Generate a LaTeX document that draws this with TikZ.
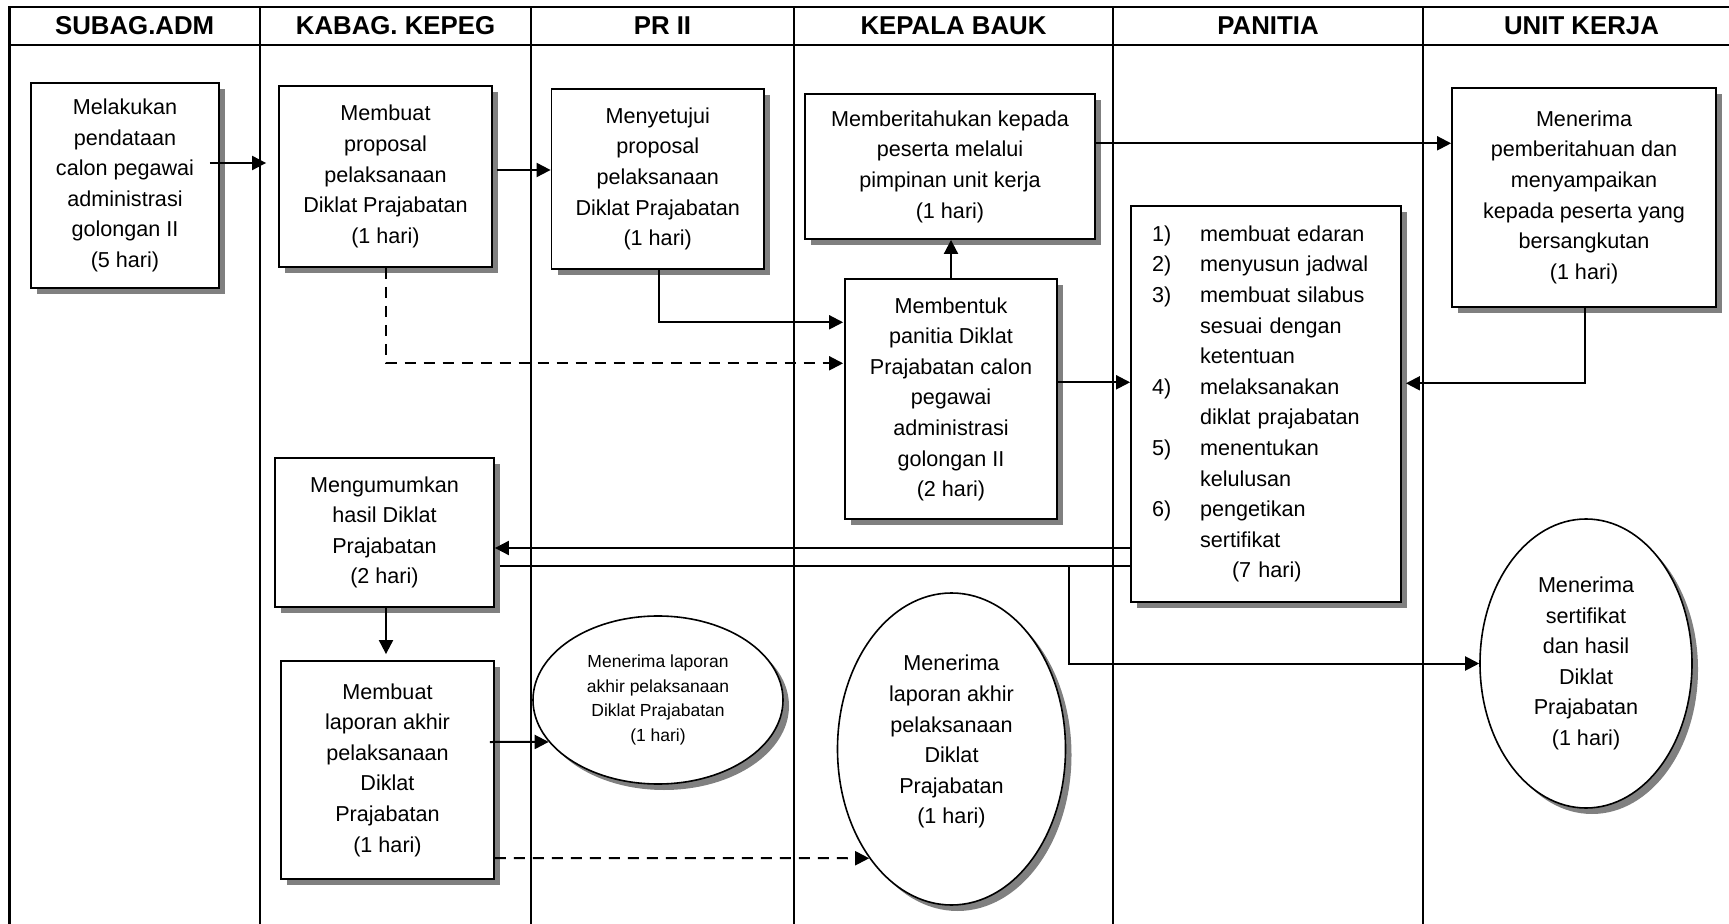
\documentclass[tikz,border=0pt]{standalone}
\usepackage{fontspec}
\setmainfont{Liberation Sans}
\usetikzlibrary{arrows.meta,shapes.geometric,shadows,calc}
\definecolor{shade}{RGB}{128,128,128}
\newcommand{\lnum}[1]{\makebox[24pt][l]{#1}}
\tikzset{
  lane/.style={line width=1.1pt},
  boxshadow/.style={drop shadow={shadow xshift=3pt,shadow yshift=-3pt,fill=shade,opacity=1}},
  proc/.style={draw,line width=0.9pt,fill=white,rectangle,align=center,inner sep=2pt,
    font=\fontsize{10.8pt}{15.3pt}\selectfont,boxshadow},
  term/.style={draw,ellipse,line width=0.8pt,fill=white,align=center,inner sep=0pt,
    font=\fontsize{10.8pt}{15.3pt}\selectfont,boxshadow},
  arr/.style={line width=1pt,-{Triangle[length=7pt,width=7pt]}},
  link/.style={line width=1pt},
  dashlink/.style={line width=1pt,dash pattern=on 5.5pt off 4pt},
  head/.style={font=\fontsize{12.9pt}{15pt}\selectfont\bfseries}
}
\begin{document}
\begin{tikzpicture}[x=0.5pt,y=-0.5pt]
\useasboundingbox (0,0) rectangle (1729,924);

% swimlane frame
\draw[lane] (9.5,924) -- (9.5,6.7) -- (1729,6.7);
\draw[lane] (9.5,45) -- (1729,45);
\foreach \x in {260,531,794,1113,1423} \draw[lane] (\x,6.7) -- (\x,924);

% lane headings
\node[head] (h1) at (134.7,26) {SUBAG.ADM};
\node[head] (h2) at (395.5,26) {KABAG. KEPEG};
\node[head] (h3) at (662.5,26) {PR II};
\node[head] (h4) at (953.5,26) {KEPALA BAUK};
\node[head] (h5) at (1268,26) {PANITIA};
\node[head] (h6) at (1581.5,26) {UNIT KERJA};

% process steps
\node[proc,minimum width=94pt,minimum height=102.5pt] (mel) at (125,185.5)
  {Melakukan\\pendataan\\calon pegawai\\administrasi\\golongan II\\(5 hari)};
\node[proc,minimum width=106.5pt,minimum height=90.5pt] (prop) at (385.5,176.5)
  {Membuat\\proposal\\pelaksanaan\\Diklat Prajabatan\\(1 hari)};
\node[proc,minimum width=106.25pt,minimum height=90pt] (setuju) at (657.75,179)
  {Menyetujui\\proposal\\pelaksanaan\\Diklat Prajabatan\\(1 hari)};
\node[proc,minimum width=145pt,minimum height=72.35pt] (beri) at (950,166.7)
  {Memberitahukan kepada\\peserta melalui\\pimpinan unit kerja\\(1 hari)};
\node[proc,minimum width=106pt,minimum height=120pt] (bentuk) at (951,399.3)
  {Membentuk\\panitia Diklat\\Prajabatan calon\\pegawai\\administrasi\\golongan II\\(2 hari)};
\node[proc,minimum width=132pt,minimum height=109.5pt] (terima) at (1584,197.2)
  {Menerima\\pemberitahuan dan\\menyampaikan\\kepada peserta yang\\bersangkutan\\(1 hari)};
\node[proc,align=left,text width=114pt,inner xsep=10.5pt,minimum height=198pt] (pan) at (1266,404)
  {\lnum{1)}membuat edaran\\
   \lnum{2)}menyusun jadwal\\
   \lnum{3)}membuat silabus\\
   \hspace*{24pt}sesuai dengan\\
   \hspace*{24pt}ketentuan\\
   \lnum{4)}melaksanakan\\
   \hspace*{24pt}diklat prajabatan\\
   \lnum{5)}menentukan\\
   \hspace*{24pt}kelulusan\\
   \lnum{6)}pengetikan\\
   \hspace*{24pt}sertifikat\\
   \hspace*{40pt}(7 hari)};
\node[proc,minimum width=109.5pt,minimum height=74.5pt] (umum) at (384.5,532.5)
  {Mengumumkan\\hasil Diklat\\Prajabatan\\(2 hari)};
\node[proc,minimum width=106.5pt,minimum height=109pt] (lapor) at (387.5,770)
  {Membuat\\laporan akhir\\pelaksanaan\\Diklat\\Prajabatan\\(1 hari)};

% receiving ends
\node[term,minimum width=125pt,minimum height=84pt,font=\fontsize{8.75pt}{12.25pt}\selectfont] (e1) at (658,700)
  {Menerima laporan\\akhir pelaksanaan\\Diklat Prajabatan\\(1 hari)};
\node[term,minimum width=114pt,minimum height=156pt,text depth=9.5pt] (e2) at (951.5,749)
  {Menerima\\laporan akhir\\pelaksanaan\\Diklat\\Prajabatan\\(1 hari)};
\node[term,minimum width=106pt,minimum height=144.5pt] (e3) at (1586,663.5)
  {Menerima\\sertifikat\\dan hasil\\Diklat\\Prajabatan\\(1 hari)};

% flow
\draw[arr] ($(mel.east)+(-10,-22.5)$) -- ($(prop.west)+(-12,-13.5)$);
\draw[arr] ($(prop.east)+(4,-6.5)$) -- ($(setuju.west)+(0,-9)$);
\draw[arr] ($(setuju.south)+(1.25,0)$) |- ($(bentuk.west)+(-1,-77)$);
\draw[dashlink,arr] ($(prop.south)+(0.5,0)$) |- ($(bentuk.west)+(-1,-36)$);
\draw[arr] (bentuk.north) -- (bentuk.north |- beri.south);
\draw[arr] ($(beri.east)+(0,-23.4)$) coordinate (b1) -- (terima.west |- b1);
\draw[arr] ($(bentuk.east)+(0,-17)$) coordinate (b2) -- (pan.west |- b2);
\draw[arr] ($(terima.south)+(1.4,0)$) |- ($(pan.east)+(4,-20.7)$);
\draw[arr] ($(pan.west)+(0,144)$) coordinate (p1) -- (umum.east |- p1);
\draw[link] ($(pan.west)+(0,162)$) coordinate (p2) -- ($(umum.east |- p2)+(5,0)$);
\coordinate (split) at (1069,566);
\draw[arr] (split) |- (e3.west);
\draw[arr,shorten >=3pt] ($(umum.south)+(1.5,0)$) coordinate (u1) -- (u1 |- lapor.north);
\draw[arr] ($(lapor.east)+(-5,-28)$) -- (e1.201.25);
\draw[dashlink,arr] ($(lapor.east)+(0,88)$) -- (e2.233.2);
\end{tikzpicture}
\end{document}
